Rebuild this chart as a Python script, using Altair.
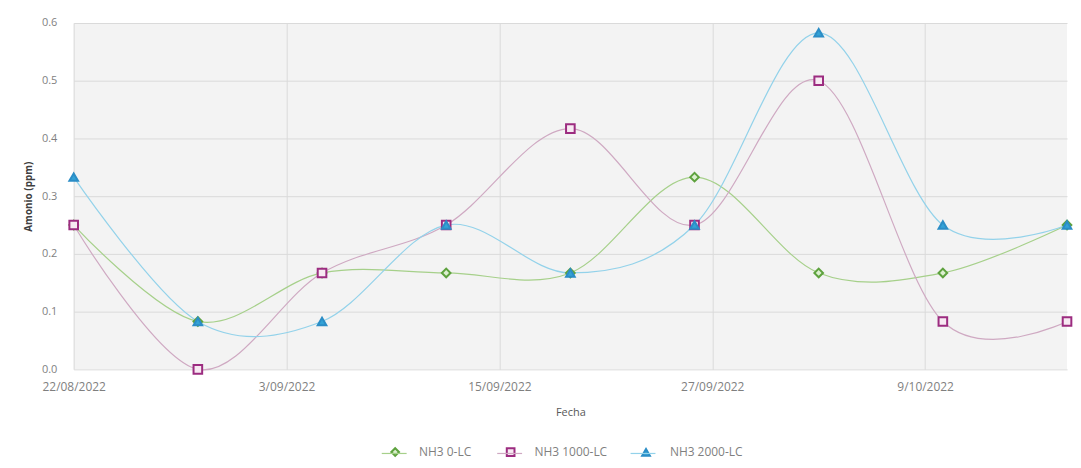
import altair as alt
import pandas as pd

# ---- data ----
dates = ["2022-08-22", "2022-08-29", "2022-09-05", "2022-09-12", "2022-09-19",
         "2022-09-26", "2022-10-03", "2022-10-10", "2022-10-17"]
nh3_0 = [0.25, 0.083, 0.167, 0.167, 0.167, 0.333, 0.167, 0.167, 0.25]
nh3_1000 = [0.25, 0.0, 0.167, 0.25, 0.417, 0.25, 0.5, 0.083, 0.083]
nh3_2000 = [0.333, 0.083, 0.083, 0.25, 0.167, 0.25, 0.583, 0.25, 0.25]
series_names = ["NH3 0-LC", "NH3 1000-LC", "NH3 2000-LC"]
tick_dates = [(2022, 8, 22), (2022, 9, 3), (2022, 9, 15), (2022, 9, 27), (2022, 10, 9)]
domain_dates = [(2022, 8, 22), (2022, 10, 17)]
y_ticks = [0.0, 0.1, 0.2, 0.3, 0.4, 0.5, 0.6]

# ---- styles ----
line_colors = ["#A6D08A", "#CFA9C2", "#93D2EA"]
marker_fill = ["#DCEFCF", "#F7E9F2", "#33A2D6"]
marker_stroke = ["#5EA23E", "#9C2C80", "#2B8DC6"]
marker_shapes = ["diamond", "square", "triangle-up"]
legend_line_x = [308.5, 424.5, 558.5]
FONT = "Open Sans"

rows = []
for name, vals in zip(series_names, [nh3_0, nh3_1000, nh3_2000]):
    for d, v in zip(dates, vals):
        rows.append({"fecha": d, "valor": v, "serie": name})
df = pd.DataFrame(rows)


def dt(t):
    return alt.DateTime(year=t[0], month=t[1], date=t[2], utc=True)


x_enc = alt.X(
    "fecha:T",
    scale=alt.Scale(type="utc", domain=[dt(t) for t in domain_dates], nice=False),
    axis=alt.Axis(
        values=[dt(t) for t in tick_dates],
        labelExpr="utcFormat(datum.value, '%-d/%m/%Y')",
        labelFlush=False,
        labelOverlap=False,
        labelFontSize=12,
        title="Fecha",
        ticks=False,
        domain=False,
        labelPadding=12,
        titlePadding=14,
        grid=True,
    ),
)
y_enc = alt.Y(
    "valor:Q",
    scale=alt.Scale(domain=[0, 0.6], nice=False),
    axis=alt.Axis(
        values=y_ticks,
        format=".1f",
        title="Amonio (ppm)",
        ticks=False,
        domain=False,
        labelPadding=17,
        titlePadding=8,
        titleFontWeight="bold",
        titleColor="#404040",
        titleFontSize=10,
    ),
)

base = alt.Chart(df)

line_layers = []
for name, col, lx in zip(series_names, line_colors, legend_line_x):
    line_layers.append(
        base.transform_filter(alt.datum.serie == name)
        .mark_line(interpolate="cardinal", strokeWidth=1.2)
        .encode(
            x=x_enc,
            y=y_enc,
            color=alt.Color(
                "serie:N",
                scale=alt.Scale(domain=[name], range=[col]),
                legend=alt.Legend(
                    orient="none",
                    title=None,
                    legendX=lx,
                    legendY=419,
                    symbolType="stroke",
                    symbolSize=625,
                    symbolStrokeWidth=1.2,
                    labelExpr="''",
                    labelOffset=0,
                ),
            ),
            order=alt.Order("fecha:T"),
        )
    )

points = base.transform_calculate(serie2="datum.serie").mark_point(
    filled=True, size=75, strokeWidth=2, opacity=1
).encode(
    x=x_enc,
    y=y_enc,
    shape=alt.Shape(
        "serie2:N",
        scale=alt.Scale(domain=series_names, range=marker_shapes),
        legend=alt.Legend(
            orient="none",
            direction="horizontal",
            title=None,
            legendX=317,
            legendY=425,
            symbolSize=60,
            symbolStrokeWidth=2,
            labelOffset=18,
            columnPadding=31,
        ),
    ),
    fill=alt.Fill("serie2:N", scale=alt.Scale(domain=series_names, range=marker_fill)),
    stroke=alt.Stroke("serie2:N", scale=alt.Scale(domain=series_names, range=marker_stroke)),
)

chart = (
    alt.layer(*line_layers, points)
    .resolve_scale(color="independent")
    .properties(
        width=998,
        height=348,
        autosize=alt.AutoSizeParams(type="none"),
        padding={"left": 66, "top": 14, "right": 6, "bottom": 90},
        background="white",
    )
    .configure_view(fill="#F3F3F3", stroke=None)
    .configure_axis(
        labelFont=FONT,
        titleFont=FONT,
        labelFontSize=11,
        titleFontSize=11,
        labelColor="#7F7F7F",
        titleColor="#595959",
        gridColor="#DADADA",
        gridWidth=1,
        titleFontWeight="normal",
    )
    .configure_legend(
        labelFont=FONT,
        labelFontSize=12,
        labelColor="#7F7F7F",
    )
)

chart.save("out.html", embed_options={"renderer": "svg", "actions": False})
